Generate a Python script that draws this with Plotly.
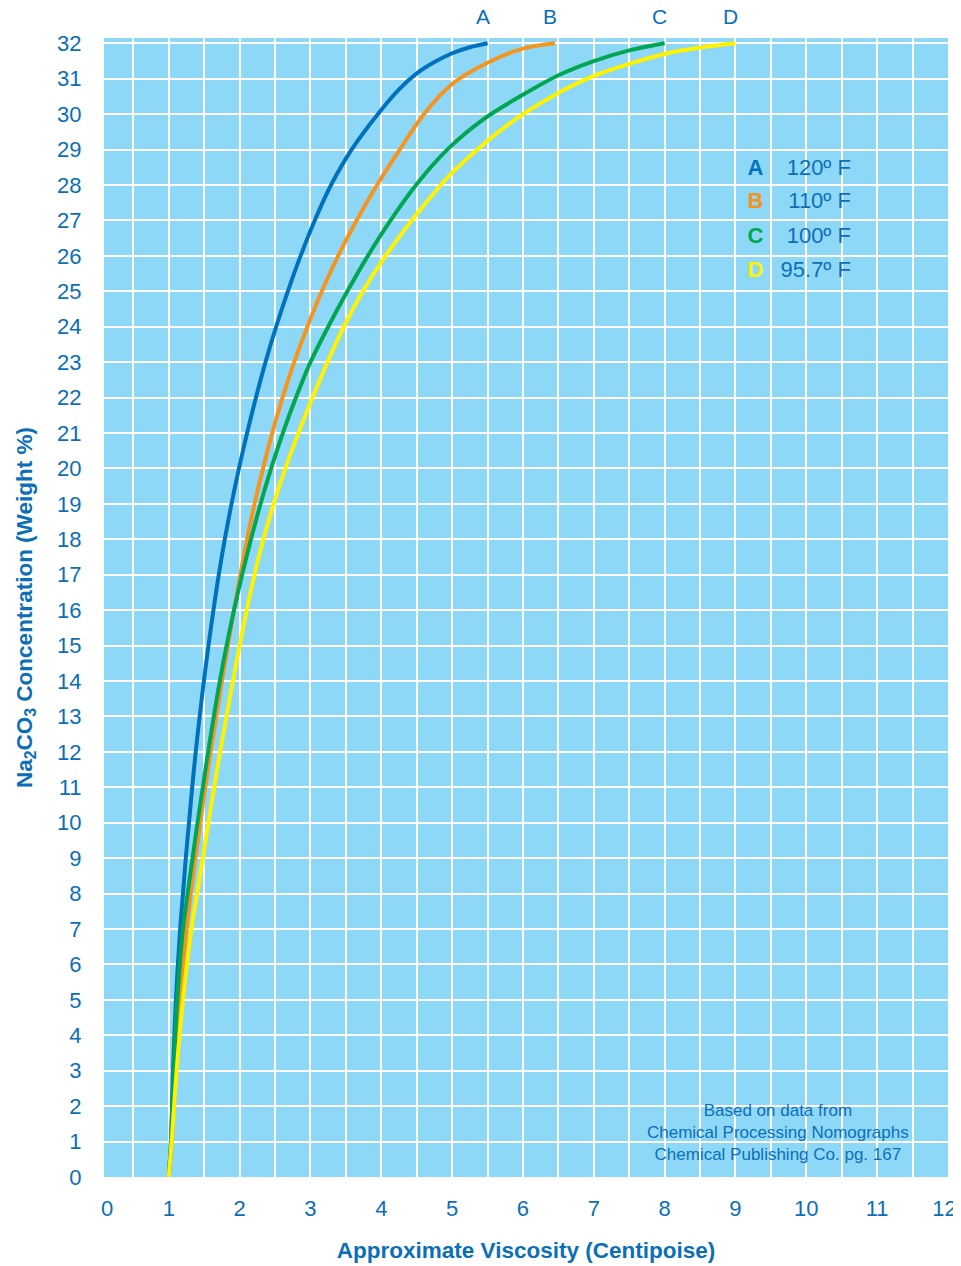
import plotly.graph_objects as go

# ---- data ----
y_A = [0, 1, 3, 5, 7, 8, 9, 10, 11, 12, 13, 14, 15, 16, 17, 18, 19, 20, 21, 22, 23, 24, 25, 26, 27, 28, 29, 30, 30.7, 31.15, 31.47, 31.72, 31.89, 32]
x_A = [1.0, 1.03, 1.06, 1.1, 1.16, 1.2, 1.24, 1.285, 1.33, 1.38, 1.435, 1.495, 1.56, 1.63, 1.705, 1.79, 1.885, 1.99, 2.105, 2.23, 2.365, 2.515, 2.68, 2.86, 3.06, 3.29, 3.58, 3.95, 4.25, 4.5, 4.75, 5.0, 5.25, 5.5]

y_B = [0, 1, 3, 5, 7, 8, 9, 10, 11, 12, 13, 14, 15, 16, 17, 18, 19, 20, 21, 22, 23, 24, 25, 26, 27, 28, 29, 30, 30.85, 31.45, 31.85, 32]
x_B = [1.0, 1.04, 1.1, 1.16, 1.25, 1.31, 1.375, 1.445, 1.515, 1.59, 1.67, 1.75, 1.835, 1.92, 2.01, 2.105, 2.21, 2.33, 2.46, 2.605, 2.77, 2.955, 3.16, 3.39, 3.65, 3.94, 4.26, 4.6, 5.0, 5.5, 6.0, 6.45]

y_C = [0, 1, 3, 5, 7, 8, 9, 10, 11, 12, 13, 14, 15, 16, 17, 18, 19, 20, 21, 22, 23, 24, 25, 26, 27, 28, 29, 29.87, 30.55, 31.1, 31.5, 31.8, 32]
x_C = [1.0, 1.03, 1.07, 1.12, 1.2, 1.265, 1.335, 1.405, 1.48, 1.555, 1.635, 1.72, 1.815, 1.92, 2.035, 2.16, 2.295, 2.445, 2.61, 2.795, 3.0, 3.25, 3.52, 3.81, 4.13, 4.49, 4.93, 5.45, 6.0, 6.5, 7.0, 7.5, 8.0]

y_D = [0, 1, 3, 5, 7, 8, 9, 10, 11, 12, 13, 14, 15, 16, 17, 18, 19, 20, 21, 22, 23, 24, 25, 26, 27, 28, 28.35, 29.25, 30.0, 30.6, 31.08, 31.42, 31.7, 31.88, 32]
x_D = [1.0, 1.04, 1.11, 1.2, 1.32, 1.4, 1.48, 1.56, 1.64, 1.725, 1.815, 1.905, 2.0, 2.1, 2.21, 2.335, 2.48, 2.645, 2.83, 3.03, 3.24, 3.47, 3.74, 4.06, 4.43, 4.84, 5.0, 5.5, 6.0, 6.5, 7.0, 7.5, 8.0, 8.5, 9.0]

curve_letters = ["A", "B", "C", "D"]
temperatures = ["120º F", "110º F", "100º F", "95.7º F"]
curve_colors = ["#0071bc", "#f7941d", "#00a651", "#fff200"]

x_tickvals = [0.13, 1, 2, 3, 4, 5, 6, 7, 8, 9, 10, 11, 11.95]
x_ticktext = ["0", "1", "2", "3", "4", "5", "6", "7", "8", "9", "10", "11", "12"]
y_tickvals = list(range(0, 33))

legend_y = [28.45, 27.5, 26.53, 25.57]
legend_letter_x = 9.28
legend_temp_x = 10.63

X_RANGE = [0.085, 12.0]
Y_RANGE = [0, 32.15]

TEXT_BLUE = "#0b6fb8"
BG = "#8ed8f7"
FONT = "Liberation Sans, Arial, sans-serif"

fig = go.Figure()

series = [(x_A, y_A), (x_B, y_B), (x_C, y_C), (x_D, y_D)]
for (xs, ys), name, col in zip(series, curve_letters, curve_colors):
    fig.add_trace(go.Scatter(x=xs, y=ys, mode="lines", name=name,
                             line=dict(color=col, width=4, shape="spline", smoothing=0.9),
                             showlegend=False, hoverinfo="skip"))

# letter labels above curve ends
for (xs, ys), name in zip(series, curve_letters):
    fig.add_annotation(x=xs[-1] - 0.07, y=1.019, xref="x", yref="paper",
                       text=name, showarrow=False, yanchor="middle",
                       font=dict(family=FONT, size=21, color=TEXT_BLUE))

# in-plot legend
fig.add_trace(go.Scatter(
    x=[legend_letter_x] * 4, y=legend_y, mode="text",
    text=["<b>%s</b>" % l for l in curve_letters], textposition="middle center",
    textfont=dict(family=FONT, size=22, color=curve_colors),
    showlegend=False, hoverinfo="skip", xaxis="x2"))
fig.add_trace(go.Scatter(
    x=[legend_temp_x] * 4, y=legend_y, mode="text",
    text=temperatures, textposition="middle left",
    textfont=dict(family=FONT, size=22, color=TEXT_BLUE),
    showlegend=False, hoverinfo="skip", xaxis="x2"))

fig.add_annotation(x=9.6, y=1.27, xref="x", yref="y",
                   text="Based on data from<br>Chemical Processing Nomographs<br>Chemical Publishing Co. pg. 167",
                   showarrow=False, align="center",
                   font=dict(family=FONT, size=17, color=TEXT_BLUE))

# the page body adds an 8px offset; size the figure to compensate
fig.update_layout(
    width=961, height=1258,
    margin=dict(l=96, r=21, t=30, b=89, autoexpand=False),
    paper_bgcolor="white", plot_bgcolor=BG,
    font=dict(family=FONT, color=TEXT_BLUE),
    xaxis=dict(range=X_RANGE, tick0=0, dtick=0.5, showgrid=True, gridcolor="white", gridwidth=2,
               showticklabels=False, ticks="", zeroline=False, showline=False, automargin=False,
               title=dict(text="<b>Approximate Viscosity (Centipoise)</b>",
                          font=dict(family=FONT, size=22.5, color=TEXT_BLUE), standoff=65)),
    xaxis2=dict(range=X_RANGE, overlaying="x", side="bottom", anchor="y",
                tickmode="array", tickvals=x_tickvals, ticktext=x_ticktext,
                showgrid=False, zeroline=False, showline=False, ticks="", automargin=False,
                ticklabelstandoff=16,
                tickfont=dict(family=FONT, size=22, color=TEXT_BLUE)),
    yaxis=dict(range=Y_RANGE, tickmode="array", tickvals=y_tickvals, automargin=False,
               showgrid=True, gridcolor="white", gridwidth=2, zeroline=False, showline=False,
               ticks="outside", ticklen=4, tickcolor="white", tickwidth=2,
               ticklabelstandoff=13,
               tickfont=dict(family=FONT, size=22, color=TEXT_BLUE),
               title=dict(text="<b>Na<sub>2</sub>CO<sub>3</sub> Concentration (Weight %)</b>",
                          font=dict(family=FONT, size=22.5, color=TEXT_BLUE), standoff=18)),
)

fig.write_html("out.html")
